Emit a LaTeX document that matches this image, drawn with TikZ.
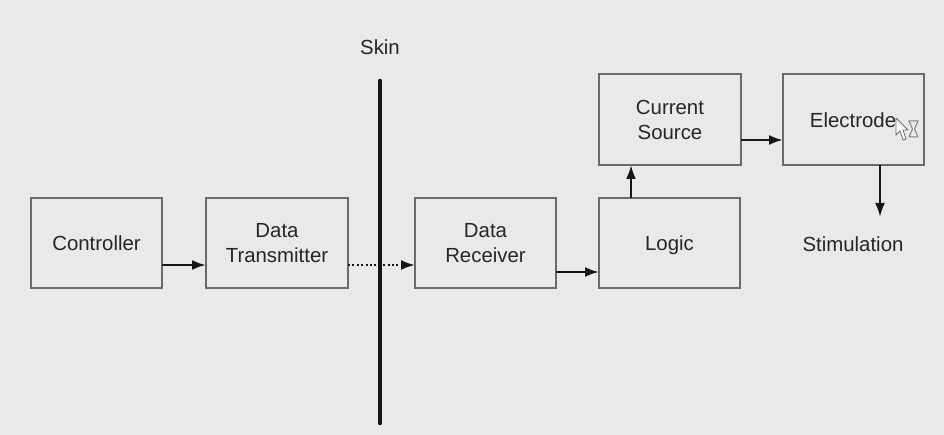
\documentclass[tikz,border=0pt]{standalone}
\usepackage{fontspec}
\setmainfont{Liberation Sans}
\usetikzlibrary{arrows.meta}
\definecolor{pagebg}{HTML}{EAE9E7}
\definecolor{boxline}{HTML}{6A6A6A}
\definecolor{inktext}{HTML}{262626}
\definecolor{inkline}{HTML}{161616}
\tikzset{
  blockbox/.style={draw=boxline,line width=2pt,outer sep=0pt,inner sep=0pt,align=center,
    text=inktext,font=\fontsize{20.4}{25}\selectfont,minimum width=#1},
  blockbox/.default=142pt,
  lowrow/.style={minimum height=90pt},
  highrow/.style={minimum height=91pt},
  plainlabel/.style={text=inktext,font=\fontsize{20.4}{25}\selectfont,inner sep=0pt},
  flow/.style={draw=inkline,line width=2.4pt,-{Latex[length=14pt,width=10pt]}},
  dotflow/.style={flow,dash pattern=on 2pt off 2.4pt}
}
\newcommand{\lowline}[1]{\raisebox{-7.5pt}[0pt][0pt]{#1}}
\begin{document}
\begin{tikzpicture}[x=1pt,y=-1pt]
  \useasboundingbox[fill=pagebg] (0,0) rectangle (944,435);

  % Signal chain blocks
  \node[blockbox=131pt,lowrow] (ctrl) at (96.5,243) {\lowline{Controller}};
  \node[blockbox,lowrow] (tx) at (277,243) {Data\\Transmitter};
  \node[blockbox=141pt,lowrow] (rx) at (485.5,243) {Data\\Receiver};
  \node[blockbox=141pt,lowrow] (logic) at (669.5,243) {\lowline{Logic}};
  \node[blockbox,highrow] (source) at (670,119.5) {Current\\Source};
  \node[blockbox=141pt,highrow] (electrode) at (853.5,119.5) {};
  \node[plainlabel] (electext) at (853,120.5) {Electrode};

  % Free labels
  \node[plainlabel] (skinlabel) at (380,47.5) {Skin};
  \node[plainlabel] (stim) at (853,244) {Stimulation};

  % Skin barrier
  \coordinate (skintop) at (380,81);
  \coordinate (skinbot) at (380,423);
  \draw[inkline,line width=4.6pt,line cap=round] (skintop) -- (skinbot);

  % Connectors
  \draw[flow] (ctrl.east |- 0,265) -- (tx.west |- 0,265);
  \draw[dotflow] (tx.east |- 0,265) -- (rx.west |- 0,265);
  \draw[flow] (rx.east |- 0,272) -- (logic.west |- 0,272);
  \draw[flow] (631,0 |- logic.north) -- (631,0 |- source.south);
  \draw[flow] (source.east |- 0,140) -- (electrode.west |- 0,140);
  \coordinate (stimtop) at (880,217);
  \draw[flow] (stimtop |- electrode.south) -- (stimtop);

  % Pointer and hourglass over the electrode block
  \draw[fill=white,draw=boxline,line width=0.8pt,line join=round]
    (896,118) -- (896,135) -- (900,131) -- (903,140) -- (906,139) -- (903,130) -- (908,130) -- cycle;
  \draw[fill=pagebg,draw=gray,line width=1pt]
    (909,121) -- (918,121) -- (914.5,129) -- (918,137) -- (909,137) -- (912.5,129) -- cycle;
\end{tikzpicture}
\end{document}
